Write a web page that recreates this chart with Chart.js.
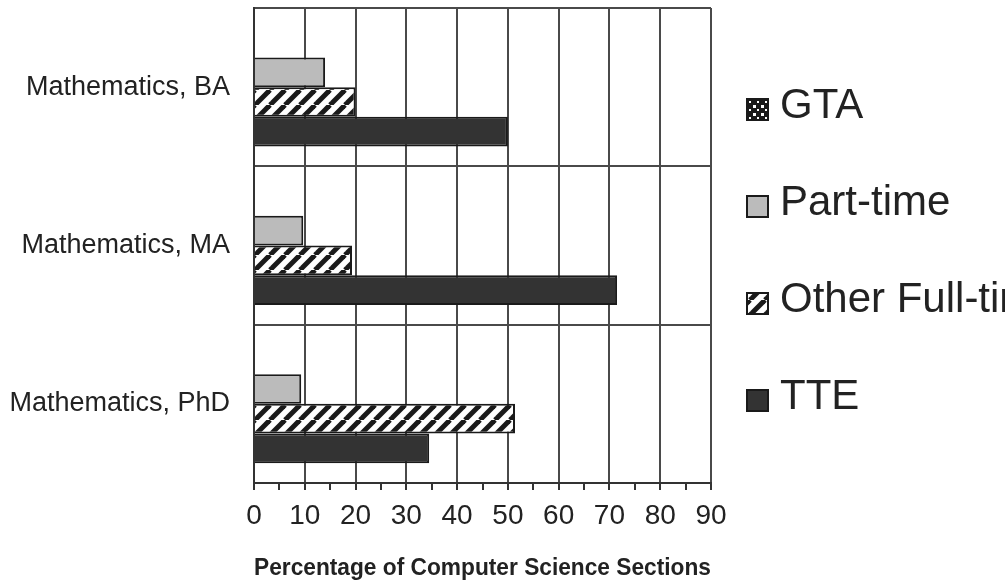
<!DOCTYPE html>
<html>
<head>
<meta charset="utf-8">
<script src="https://cdn.jsdelivr.net/npm/chart.js@4.4.1/dist/chart.umd.min.js"></script>
<style>
    html, body { margin: 0; padding: 0; background: #fff; }
    #wrap { width: 1005px; height: 584px; position: relative; }
</style>
</head>
<body>
<div id="wrap"><canvas id="chart"></canvas></div>
<script>
    var categories = ['Mathematics, BA', 'Mathematics, MA', 'Mathematics, PhD'];
    var seriesNames = ['GTA', 'Part-time', 'Other Full-time', 'TTE'];
    var gta = [0, 0, 0];
    var partTime = [14, 9.7, 9.3];
    var otherFullTime = [20, 19.3, 51.4];
    var tte = [50, 71.5, 34.5];
    var xTicks = [0, 10, 20, 30, 40, 50, 60, 70, 80, 90];

    var FONT = 'Arial, "Liberation Sans", sans-serif';
    var INK = '#222';

    // diagonal "/" stripes for Other Full-time
    function makeHatch() {
        var s = 15;
        var c = document.createElement('canvas');
        c.width = s; c.height = s;
        var g = c.getContext('2d');
        g.fillStyle = '#fff';
        g.fillRect(0, 0, s, s);
        g.strokeStyle = '#1a1a1a';
        g.lineWidth = 5;
        [-s, 0, s].forEach(function (k) {
            g.beginPath();
            g.moveTo(k, s);
            g.lineTo(k + s, 0);
            g.stroke();
        });
        return g.createPattern(c, 'repeat');
    }

    // dark checker for GTA
    function makeChecker() {
        var c = document.createElement('canvas');
        c.width = 8; c.height = 8;
        var g = c.getContext('2d');
        g.fillStyle = '#1a1a1a';
        g.fillRect(0, 0, 8, 8);
        g.fillStyle = '#fff';
        g.fillRect(1, 1, 3, 3);
        g.fillRect(5, 5, 2, 2);
        return g.createPattern(c, 'repeat');
    }

    var fills = [makeChecker(), '#bbbbbb', makeHatch(), '#333333'];
    var values = [gta, partTime, otherFullTime, tte];

    // legend to the right of the plot, drawn by hand so the spacing matches
    var sideLegend = {
        id: 'sideLegend',
        afterDraw: function (chart) {
            var ctx = chart.ctx;
            var area = chart.chartArea;
            var mid = (area.top + area.bottom) / 2;
            ctx.save();
            ctx.font = '42px ' + FONT;
            ctx.textBaseline = 'alphabetic';
            ctx.textAlign = 'left';
            chart.data.datasets.forEach(function (ds, i) {
                var base = mid + 18 + (i - 1.5) * 97;
                var bx = area.right + 36;
                var by = base - 19;
                ctx.fillStyle = ds.backgroundColor;
                ctx.fillRect(bx, by, 21, 21);
                ctx.lineWidth = 2;
                ctx.strokeStyle = '#1a1a1a';
                ctx.strokeRect(bx, by, 21, 21);
                ctx.fillStyle = INK;
                ctx.fillText(ds.label, bx + 33, base);
            });
            ctx.restore();
        }
    };

    var datasets = seriesNames.map(function (name, i) {
        return {
            label: name,
            data: values[i],
            backgroundColor: fills[i],
            borderColor: '#1a1a1a',
            borderWidth: 2,
            categoryPercentage: 0.75,
            barPercentage: 1
        };
    });

    new Chart(document.getElementById('chart').getContext('2d'), {
        type: 'bar',
        data: { labels: categories, datasets: datasets },
        plugins: [sideLegend],
        options: {
            indexAxis: 'y',
            responsive: true,
            maintainAspectRatio: false,
            animation: false,
            layout: { padding: { top: 8, right: 294, left: 0, bottom: 0 } },
            plugins: {
                legend: { display: false },
                tooltip: { enabled: false }
            },
            scales: {
                x: {
                    min: 0,
                    max: 90,
                    afterFit: function (scale) { scale.height = 101; },
                    ticks: {
                        stepSize: 5,
                        autoSkip: false,
                        maxRotation: 0,
                        padding: 9,
                        color: INK,
                        font: { family: FONT, size: 28 },
                        callback: function (v) {
                            return xTicks.indexOf(v) >= 0 ? String(v) : '';
                        }
                    },
                    grid: {
                        lineWidth: 2,
                        tickLength: 7,
                        tickColor: '#333',
                        color: function (ctx) {
                            return ctx.tick && ctx.tick.value % 10 === 0 ? '#4a4a4a' : 'rgba(0,0,0,0)';
                        }
                    },
                    border: { color: '#333', width: 2 },
                    title: {
                        display: true,
                        text: 'Percentage of Computer Science Sections',
                        color: INK,
                        font: { family: FONT, size: 24, weight: 'bold' },
                        padding: { top: 0, bottom: 1 }
                    }
                },
                y: {
                    afterFit: function (scale) {
                        scale.width = 254;
                        scale.paddingTop = 0;
                        scale.paddingBottom = 0;
                    },
                    ticks: {
                        padding: 24,
                        color: INK,
                        font: { family: FONT, size: 27 }
                    },
                    grid: {
                        offset: true,
                        drawTicks: false,
                        lineWidth: 2,
                        color: '#4a4a4a'
                    },
                    border: { color: '#333', width: 2 }
                }
            }
        }
    });
</script>
</body>
</html>
